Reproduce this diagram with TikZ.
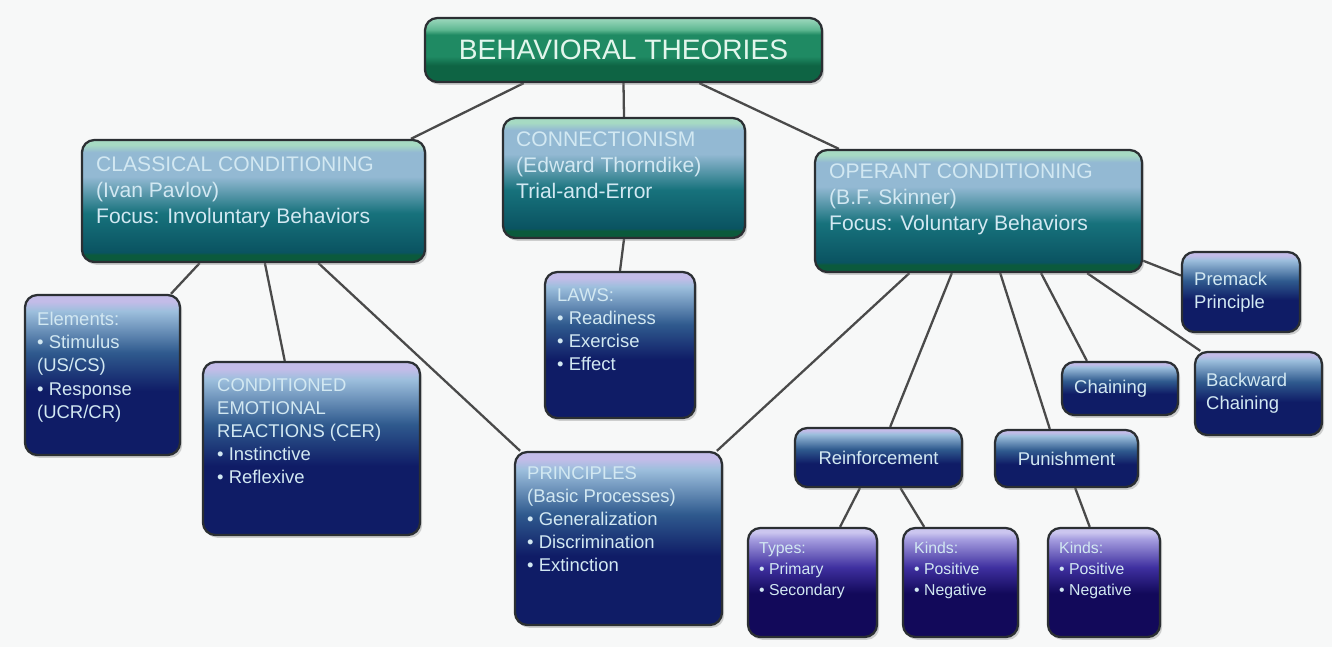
\documentclass[tikz,border=0pt]{standalone}
\usepackage{fontspec}
\newfontfamily\boxfont{Liberation Sans}
\usetikzlibrary{calc,shadows,backgrounds}

\definecolor{pagebg}{HTML}{F7F8F8}
\definecolor{edgegray}{HTML}{2B2F33}
\definecolor{linkgray}{HTML}{4A4A4A}
\definecolor{txtlight}{HTML}{D2E8F2}
\definecolor{titletxt}{HTML}{E2F6EC}
% title box
\definecolor{tttop}{HTML}{9ED9BF}
\definecolor{tthi}{HTML}{5FB892}
\definecolor{ttmid}{HTML}{1F8A63}
\definecolor{ttbot}{HTML}{0E6444}
% theory boxes
\definecolor{thtop}{HTML}{A6DAC3}
\definecolor{thhi}{HTML}{93B9D3}
\definecolor{thmid}{HTML}{17727C}
\definecolor{thbot}{HTML}{0A5361}
\definecolor{thfoot}{HTML}{0B5A3C}
% navy boxes
\definecolor{nvtop}{HTML}{C3BCE8}
\definecolor{nvhi}{HTML}{9DBFDD}
\definecolor{nvmid}{HTML}{2F5A8E}
\definecolor{nvbot}{HTML}{0F1C66}
% purple boxes
\definecolor{pptop}{HTML}{CBC6EF}
\definecolor{pphi}{HTML}{A69EE0}
\definecolor{ppmid}{HTML}{3F30A0}
\definecolor{ppbot}{HTML}{12095A}

\pgfdeclareverticalshading{titleshade}{100bp}{color(0bp)=(ttbot); color(25bp)=(ttbot); color(38bp)=(ttbot); color(45bp)=(ttmid); color(62bp)=(ttmid); color(66bp)=(tthi); color(75bp)=(tttop); color(100bp)=(tttop)}
\pgfdeclareverticalshading{theoryshade}{100bp}{color(0bp)=(thfoot); color(25bp)=(thfoot); color(28bp)=(thfoot); color(29bp)=(thbot); color(45bp)=(thmid); color(60bp)=(thhi); color(70bp)=(thhi); color(73bp)=(thtop); color(75bp)=(thtop); color(100bp)=(thtop)}
\pgfdeclareverticalshading{navyshade}{100bp}{color(0bp)=(nvbot); color(25bp)=(nvbot); color(45bp)=(nvbot); color(57bp)=(nvmid); color(70bp)=(nvhi); color(73bp)=(nvtop); color(75bp)=(nvtop); color(100bp)=(nvtop)}
\pgfdeclareverticalshading{purpleshade}{100bp}{color(0bp)=(ppbot); color(25bp)=(ppbot); color(45bp)=(ppbot); color(57bp)=(ppmid); color(70bp)=(pphi); color(73bp)=(pptop); color(75bp)=(pptop); color(100bp)=(pptop)}

\tikzset{
  box/.style={draw=edgegray, line width=1.3pt, rounded corners=7pt,
    drop shadow={opacity=0.35, shadow xshift=1.2pt, shadow yshift=-1.6pt}},
  titlebox/.style={box, shading=titleshade},
  theorybox/.style={box, shading=theoryshade},
  navybox/.style={box, shading=navyshade},
  purplebox/.style={box, shading=purpleshade},
  txt/.style={anchor=north west, inner sep=0pt, align=left, text=txtlight},
  bigtxt/.style={txt, font=\boxfont\fontsize{12}{14.8}\selectfont},
  midtxt/.style={txt, font=\boxfont\fontsize{10.5}{13.2}\selectfont},
  smalltxt/.style={txt, font=\boxfont\fontsize{9}{12}\selectfont},
  link/.style={draw=linkgray, line width=1.3pt}
}

\begin{document}
\begin{tikzpicture}[x=0.2mm, y=-0.2mm]
\useasboundingbox (0,0) rectangle (1332,647);

% boxes
\node[titlebox, minimum width=79.4mm, minimum height=12.8mm] (title) at (623.5,50) {};
\node[text=titletxt, font=\boxfont\fontsize{16}{18}\selectfont] (title-t) at (title.center) {BEHAVIORAL THEORIES};

\node[theorybox, minimum width=68.6mm, minimum height=24.4mm] (classical) at (253.5,201) {};
\node[bigtxt] (classical-t) at ([shift={(3mm,-3.6mm)}]classical.north west)
  {CLASSICAL CONDITIONING\\(Ivan Pavlov)\\Focus: Involuntary Behaviors};

\node[theorybox, minimum width=48.4mm, minimum height=24mm] (connect) at (624,178) {};
\node[bigtxt] (connect-t) at ([shift={(2.8mm,-3mm)}]connect.north west)
  {CONNECTIONISM\\(Edward Thorndike)\\Trial-and-Error};

\node[theorybox, minimum width=65.4mm, minimum height=24.4mm] (operant) at (978.5,211) {};
\node[bigtxt] (operant-t) at ([shift={(3mm,-3mm)}]operant.north west)
  {OPERANT CONDITIONING\\(B.F. Skinner)\\Focus: Voluntary Behaviors};

\node[navybox, minimum width=31mm, minimum height=32mm] (elements) at (102.5,375) {};
\node[midtxt] (elements-t) at ([shift={(2.6mm,-3.6mm)}]elements.north west)
  {Elements:\\\textbullet\ Stimulus\\(US/CS)\\\textbullet\ Response\\(UCR/CR)};

\node[navybox, minimum width=43.4mm, minimum height=34.6mm] (cer) at (311.5,448.5) {};
\node[midtxt] (cer-t) at ([shift={(3mm,-3.4mm)}]cer.north west)
  {CONDITIONED\\EMOTIONAL\\REACTIONS (CER)\\\textbullet\ Instinctive\\\textbullet\ Reflexive};

\node[navybox, minimum width=30mm, minimum height=29.2mm] (laws) at (620,345) {};
\node[midtxt] (laws-t) at ([shift={(2.6mm,-3.4mm)}]laws.north west)
  {LAWS:\\\textbullet\ Readiness\\\textbullet\ Exercise\\\textbullet\ Effect};

\node[navybox, minimum width=41.4mm, minimum height=34.6mm] (principles) at (618.5,538.5) {};
\node[midtxt] (principles-t) at ([shift={(2.6mm,-3mm)}]principles.north west)
  {PRINCIPLES\\(Basic Processes)\\\textbullet\ Generalization\\\textbullet\ Discrimination\\\textbullet\ Extinction};

\node[navybox, minimum width=23.6mm, minimum height=16mm] (premack) at (1241,292) {};
\node[midtxt, anchor=west] (premack-t) at ([xshift=2.6mm]premack.west) {Premack\\Principle};

\node[navybox, minimum width=23.2mm, minimum height=10.6mm] (chaining) at (1120,388.5) {};
\node[midtxt, anchor=west] (chaining-t) at ([xshift=2.6mm]chaining.west) {Chaining};

\node[navybox, minimum width=25.4mm, minimum height=16.6mm] (backward) at (1258.5,393.5) {};
\node[midtxt, anchor=west] (backward-t) at ([xshift=2.4mm]backward.west) {Backward\\Chaining};

\node[navybox, minimum width=33.4mm, minimum height=11.8mm] (reinf) at (878.5,457.5) {};
\node[midtxt, anchor=center] (reinf-t) at (reinf.center) {Reinforcement};

\node[navybox, minimum width=28.6mm, minimum height=11.4mm] (punish) at (1066.5,458.5) {};
\node[midtxt, anchor=center] (punish-t) at (punish.center) {Punishment};

\node[purplebox, minimum width=25.8mm, minimum height=21.8mm] (types) at (812.5,582.5) {};
\node[smalltxt] (types-t) at ([shift={(2.4mm,-3mm)}]types.north west)
  {Types:\\\textbullet\ Primary\\\textbullet\ Secondary};

\node[purplebox, minimum width=23mm, minimum height=21.8mm] (kindsA) at (960.5,582.5) {};
\node[smalltxt] (kindsA-t) at ([shift={(2.4mm,-3mm)}]kindsA.north west)
  {Kinds:\\\textbullet\ Positive\\\textbullet\ Negative};

\node[purplebox, minimum width=22.4mm, minimum height=21.8mm] (kindsB) at (1104,582.5) {};
\node[smalltxt] (kindsB-t) at ([shift={(2.4mm,-3mm)}]kindsB.north west)
  {Kinds:\\\textbullet\ Positive\\\textbullet\ Negative};

% connectors
\begin{pgfonlayer}{background}
\fill[pagebg] (0,0) rectangle (1332,647);
\draw[link] ($(title.south west)!0.25!(title.south east)$) -- ($(classical.north west)!0.956!(classical.north east)$);
\draw[link] (title.south) -- (connect.north);
\draw[link] ($(title.south west)!0.69!(title.south east)$) -- ($(operant.north west)!0.076!(operant.north east)$);
\draw[link] ($(classical.south west)!0.344!(classical.south east)$) -- ($(elements.north west)!0.935!(elements.north east)$);
\draw[link] ($(classical.south west)!0.533!(classical.south east)$) -- ($(cer.north west)!0.378!(cer.north east)$);
\draw[link] ($(classical.south west)!0.688!(classical.south east)$) -- ($(principles.north west)!0.03!(principles.north east)$);
\draw[link] (connect.south) -- (laws.north);
\draw[link] ($(operant.south west)!0.29!(operant.south east)$) -- ($(principles.north west)!0.97!(principles.north east)$);
\draw[link] ($(operant.south west)!0.419!(operant.south east)$) -- ($(reinf.north west)!0.569!(reinf.north east)$);
\draw[link] ($(operant.south west)!0.566!(operant.south east)$) -- ($(punish.north west)!0.385!(punish.north east)$);
\draw[link] ($(operant.south west)!0.69!(operant.south east)$) -- ($(chaining.north west)!0.22!(chaining.north east)$);
\draw[link] ($(operant.south west)!0.83!(operant.south east)$) -- ($(backward.north west)!0.05!(backward.north east)$);
\draw[link] ($(operant.north east)!0.9!(operant.south east)$) -- ($(premack.north west)!0.3!(premack.south west)$);
\draw[link] ($(reinf.south west)!0.39!(reinf.south east)$) -- ($(types.north west)!0.71!(types.north east)$);
\draw[link] ($(reinf.south west)!0.63!(reinf.south east)$) -- ($(kindsA.north west)!0.19!(kindsA.north east)$);
\draw[link] ($(punish.south west)!0.56!(punish.south east)$) -- ($(kindsB.north west)!0.375!(kindsB.north east)$);
\end{pgfonlayer}
\end{tikzpicture}
\end{document}
